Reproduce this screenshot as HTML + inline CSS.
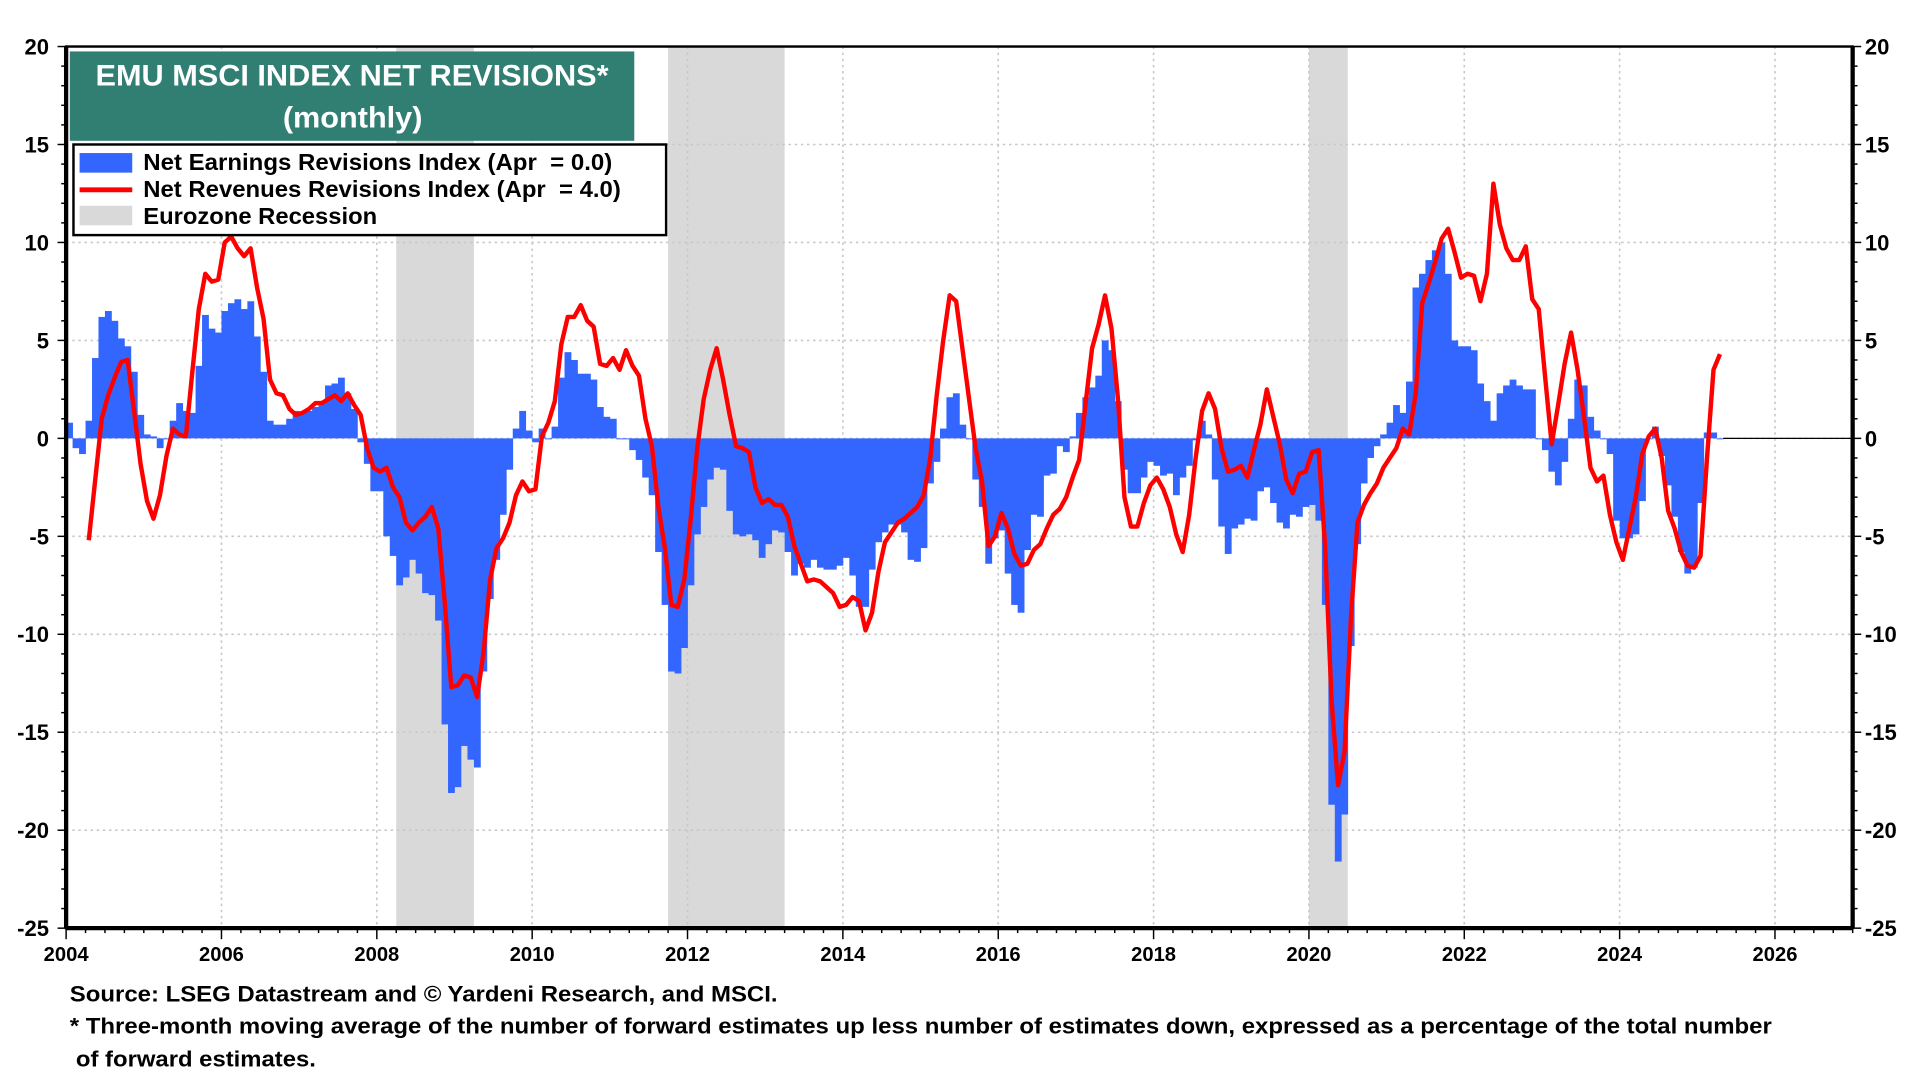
<!DOCTYPE html>
<html><head><meta charset="utf-8"><style>
html,body{margin:0;padding:0;background:#fff;}
svg{display:block;font-family:"Liberation Sans",Arial,sans-serif;font-weight:bold;}
</style></head><body>
<svg id="chart" width="1920" height="1080" viewBox="0 0 1568 882" xmlns="http://www.w3.org/2000/svg">
<g id="bg"></g>
<g id="grid"></g>
<g id="bars"></g>
<g id="line"></g>
<g id="axes"></g>
<rect x="57" y="42" width="461" height="73" fill="#317f72"/>
<text x="78" y="70" fill="#fff" font-size="24" textLength="419" lengthAdjust="spacingAndGlyphs">EMU MSCI INDEX NET REVISIONS*</text>
<text x="231" y="104" fill="#fff" font-size="24" textLength="114" lengthAdjust="spacingAndGlyphs">(monthly)</text>
<g>
<rect x="60" y="118" width="484" height="74" fill="#fff" stroke="#000" stroke-width="2"/>
<rect x="65" y="125" width="43" height="16" fill="#3366ff"/>
<text x="117" y="139" font-size="19" xml:space="preserve" textLength="383" lengthAdjust="spacingAndGlyphs">Net Earnings Revisions Index (Apr  = 0.0)</text>
<line x1="65" y1="155" x2="108" y2="155" stroke="#ff0000" stroke-width="4"/>
<text x="117" y="161" font-size="19" xml:space="preserve" textLength="390" lengthAdjust="spacingAndGlyphs">Net Revenues Revisions Index (Apr  = 4.0)</text>
<rect x="65" y="168" width="43" height="16" fill="#d9d9d9"/>
<text x="117" y="183" font-size="19" textLength="191" lengthAdjust="spacingAndGlyphs">Eurozone Recession</text>
</g>
<text x="57" y="818" font-size="18" textLength="578" lengthAdjust="spacingAndGlyphs">Source: LSEG Datastream and © Yardeni Research, and MSCI.</text>
<text x="57" y="844" font-size="18" textLength="1390" lengthAdjust="spacingAndGlyphs">* Three-month moving average of the number of forward estimates up less number of estimates down, expressed as a percentage of the total number</text>
<text x="62" y="871" font-size="18" textLength="196" lengthAdjust="spacingAndGlyphs">of forward estimates.</text>
</svg>
<script>
// Monthly earnings revisions, Jan 2004 .. Apr 2025
const earnings = [
0.8,-0.5,-0.8,0.9,4.1,6.2,6.5,6.0,5.1,4.7,3.4,1.2,
0.2,0.1,-0.5,0,0.9,1.8,1.4,1.3,3.7,6.3,5.6,5.4,
6.5,6.9,7.1,6.6,7.0,5.2,3.4,0.9,0.7,0.7,1.0,1.4,
1.3,1.4,1.6,1.8,2.7,2.8,3.1,2.3,1.5,-0.2,-1.3,-2.7,
-2.7,-5.0,-6.0,-7.5,-7.1,-6.2,-6.9,-7.9,-8.0,-9.3,-14.6,-18.1,
-17.8,-15.7,-16.4,-16.8,-11.9,-8.2,-6.2,-3.9,-1.6,0.5,1.4,0.4,
-0.2,0.5,0,0.6,3.1,4.4,4.0,3.3,3.3,3.0,1.6,1.1,
1.0,0,0,-0.6,-1.1,-2.0,-2.9,-5.8,-8.5,-11.9,-12.0,-10.7,
-7.5,-4.9,-3.5,-2.1,-1.5,-1.6,-3.7,-4.9,-5.0,-4.9,-5.2,-6.1,
-5.4,-4.7,-4.8,-5.8,-7.0,-6.4,-6.6,-6.2,-6.6,-6.7,-6.7,-6.5,
-6.1,-7.0,-8.6,-8.6,-6.7,-5.3,-4.8,-4.4,-4.4,-4.8,-6.2,-6.3,
-5.6,-2.3,-1.2,0.5,2.1,2.3,0.7,0,-2.1,-3.5,-6.4,-5.1,
-4.7,-6.9,-8.5,-8.9,-5.7,-3.9,-4.0,-1.9,-1.8,-0.4,-0.7,0.1,
1.3,2.1,2.6,3.2,5.0,4.5,1.9,-1.6,-2.8,-2.8,-2.0,-1.2,
-1.4,-1.9,-1.8,-2.9,-2.0,-1.4,-0.1,0.9,0.2,-2.1,-4.5,-5.9,
-4.6,-4.4,-4.1,-4.2,-2.7,-2.5,-3.3,-4.3,-4.6,-3.9,-4.0,-3.5,
-3.4,-4.2,-8.5,-18.7,-21.6,-19.2,-10.6,-5.4,-2.3,-1.0,-0.4,0.2,
0.8,1.7,1.3,2.9,7.7,8.4,9.1,9.6,10.0,8.4,5.0,4.7,
4.7,4.5,2.8,1.9,0.9,2.3,2.7,3.0,2.7,2.5,2.5,0.0,
-0.6,-1.7,-2.4,-1.2,1.0,3.0,2.7,1.1,0.4,0,-0.8,-4.2,
-5.1,-5.1,-4.9,-3.2,0,0.6,-0.9,-2.4,-4.0,-5.8,-6.9,-6.6,
-3.3,0.3,0.3,0.0];
const earningsStart = 2004; // Jan 2004
// Monthly revenues revisions, Apr 2004 .. Apr 2025
const revenues = [
-5.2,-2.1,1.0,2.2,3.1,3.9,4.0,1.4,-1.3,
-3.2,-4.1,-2.9,-0.9,0.5,0.2,0.1,3.4,6.6,8.4,8.0,8.1,
10.0,10.3,9.7,9.3,9.7,7.7,6.1,3.0,2.3,2.2,1.5,1.2,
1.3,1.5,1.8,1.8,2.0,2.2,1.9,2.3,1.7,1.2,-0.5,-1.5,
-1.7,-1.5,-2.5,-3.0,-4.3,-4.7,-4.3,-4.0,-3.5,-4.6,-8.4,-12.7,
-12.6,-12.1,-12.2,-13.2,-10.9,-7.2,-5.6,-5.1,-4.3,-2.9,-2.2,-2.7,
-2.6,0.1,0.8,1.9,4.8,6.2,6.2,6.8,6.0,5.7,3.8,3.7,
4.1,3.5,4.5,3.7,3.2,1.0,-0.4,-3.5,-5.6,-8.5,-8.6,-7.2,
-4.1,-0.5,2.0,3.5,4.6,3.0,1.2,-0.4,-0.5,-0.7,-2.5,-3.3,
-3.1,-3.4,-3.4,-4.0,-5.5,-6.4,-7.3,-7.2,-7.3,-7.6,-7.9,-8.6,
-8.5,-8.1,-8.3,-9.8,-8.9,-6.8,-5.3,-4.8,-4.3,-4.1,-3.8,-3.5,
-2.9,-1.0,2.2,5.0,7.3,7.0,4.5,2.0,-0.5,-2.2,-5.5,-5.0,
-3.8,-4.6,-5.9,-6.5,-6.4,-5.7,-5.4,-4.6,-3.9,-3.6,-3.0,-2.0,
-1.1,1.8,4.6,5.8,7.3,5.6,2.0,-3.0,-4.5,-4.5,-3.3,-2.4,
-2.0,-2.6,-3.5,-4.9,-5.8,-3.9,-1.0,1.4,2.3,1.5,-0.5,-1.7,
-1.6,-1.4,-2.0,-0.6,0.7,2.5,1.1,-0.3,-2.1,-2.8,-1.8,-1.7,
-0.7,-0.6,-5.5,-13.4,-17.7,-16.0,-9.1,-4.3,-3.4,-2.8,-2.3,-1.5,
-1.0,-0.5,0.5,0.2,2.3,6.9,7.9,9.0,10.2,10.7,9.5,8.2,
8.4,8.3,7.0,8.4,13.0,10.9,9.7,9.1,9.1,9.8,7.1,6.6,
3.1,-0.3,1.7,3.8,5.4,3.5,1.1,-1.5,-2.2,-1.9,-3.9,-5.3,
-6.2,-4.6,-3.0,-0.8,0.1,0.5,-1.0,-3.7,-4.6,-5.8,-6.5,-6.6,
-6.0,-1.0,3.5,4.3];
const revenuesStart = 2004 + 3/12; // Apr 2004
const recessions = [[2008.25, 2009.25], [2011.75, 2013.25], [2020.0, 2020.5]];
const yTicks = [20, 15, 10, 5, 0, -5, -10, -15, -20, -25];
const xTicks = [2004, 2006, 2008, 2010, 2012, 2014, 2016, 2018, 2020, 2022, 2024, 2026];

const L = 54, R = 1513, T = 38, B = 758;
const X0 = 2004, X1 = 2027, Y0 = -25, Y1 = 20;
function xs(t) { return L + (t - X0) / (X1 - X0) * (R - L); }
function ys(v) { return B - (v - Y0) / (Y1 - Y0) * (B - T); }
const NS = 'http://www.w3.org/2000/svg';
function mk(tag, parent, attrs) {
  const e = document.createElementNS(NS, tag);
  for (const k in attrs) e.setAttribute(k, attrs[k]);
  parent.appendChild(e);
  return e;
}
const bg = document.getElementById('bg');
const grid = document.getElementById('grid');
const barsG = document.getElementById('bars');
const lineG = document.getElementById('line');
const axes = document.getElementById('axes');

recessions.forEach(r => {
  const e = mk('rect', bg, {x: xs(r[0]), y: T, width: xs(r[1]) - xs(r[0]), height: B - T, fill: '#d9d9d9'});
  
  
});
yTicks.forEach(v => {
  if (v === Y1 || v === Y0) return;
  const e = mk('line', grid, {x1: L, x2: R, y1: ys(v), y2: ys(v), stroke: '#c8c8c8', 'stroke-width': 1.3, 'stroke-dasharray': '2,3'});
  
  
});
xTicks.forEach(t => {
  if (t === X0) return;
  const e = mk('line', grid, {x1: xs(t), x2: xs(t), y1: T, y2: B, stroke: '#c8c8c8', 'stroke-width': 1.3, 'stroke-dasharray': '2,3'});
  
  
});

earnings.forEach((v, i) => {
  const t0 = earningsStart + i / 12, t1 = earningsStart + (i + 1) / 12;
  const y0 = ys(0), yv = ys(v);
  const e = mk('rect', barsG, {x: xs(t0), y: Math.min(y0, yv), width: xs(t1) - xs(t0) + 0.3, height: Math.max(Math.abs(yv - y0), 0.8), fill: '#3366ff'});
  
  
});
const zl = mk('line', lineG, {x1: xs(earningsStart + earnings.length / 12), x2: R, y1: ys(0), y2: ys(0), stroke: '#000', 'stroke-width': 1});



const pts = revenues.map((v, i) => xs(revenuesStart + (i + 0.5) / 12).toFixed(2) + ',' + ys(v).toFixed(2)).join(' ');
const pl = mk('polyline', lineG, {points: pts, fill: 'none', stroke: '#ff0000', 'stroke-width': 3.6, 'stroke-linejoin': 'round'});



const fr = mk('rect', axes, {x: L, y: T, width: R - L, height: B - T, fill: 'none', stroke: '#000', 'stroke-width': 2});


const la = mk('line', axes, {x1: L, x2: L, y1: T, y2: B, stroke: '#000', 'stroke-width': 3.5});


const ra = mk('line', axes, {x1: R, x2: R, y1: T, y2: B, stroke: '#000', 'stroke-width': 3.5});


const ba = mk('line', axes, {x1: L, x2: R, y1: B, y2: B, stroke: '#000', 'stroke-width': 3.5});



for (let v = Y0; v <= Y1; v++) {
  const major = v % 5 === 0;
  const len = major ? 7 : 4;
  const a = mk('line', axes, {x1: L - len, x2: L, y1: ys(v), y2: ys(v), stroke: '#000', 'stroke-width': 1.2});
  
  
  const b = mk('line', axes, {x1: R, x2: R + len, y1: ys(v), y2: ys(v), stroke: '#000', 'stroke-width': 1.2});
  
  
}
yTicks.forEach(v => {
  const a = mk('text', axes, {x: 40, y: ys(v) + 6.5, 'font-size': 18, 'text-anchor': 'end'});
  a.textContent = v;
  
  
  const b = mk('text', axes, {x: 1523, y: ys(v) + 6.5, 'font-size': 18, 'text-anchor': 'start'});
  b.textContent = v;
  
  
});
for (let q = 0; q <= (X1 - X0) * 4; q++) {
  const t = X0 + q / 4;
  const len = (q % 8 === 0) ? 9 : 4;
  const a = mk('line', axes, {x1: xs(t), x2: xs(t), y1: B, y2: B + len, stroke: '#000', 'stroke-width': 1.2});
  
  
}
xTicks.forEach(t => {
  const a = mk('text', axes, {x: xs(t), y: 785, 'font-size': 16.5, 'text-anchor': 'middle'});
  a.textContent = t;
  
  
});
</script>
</body></html>
